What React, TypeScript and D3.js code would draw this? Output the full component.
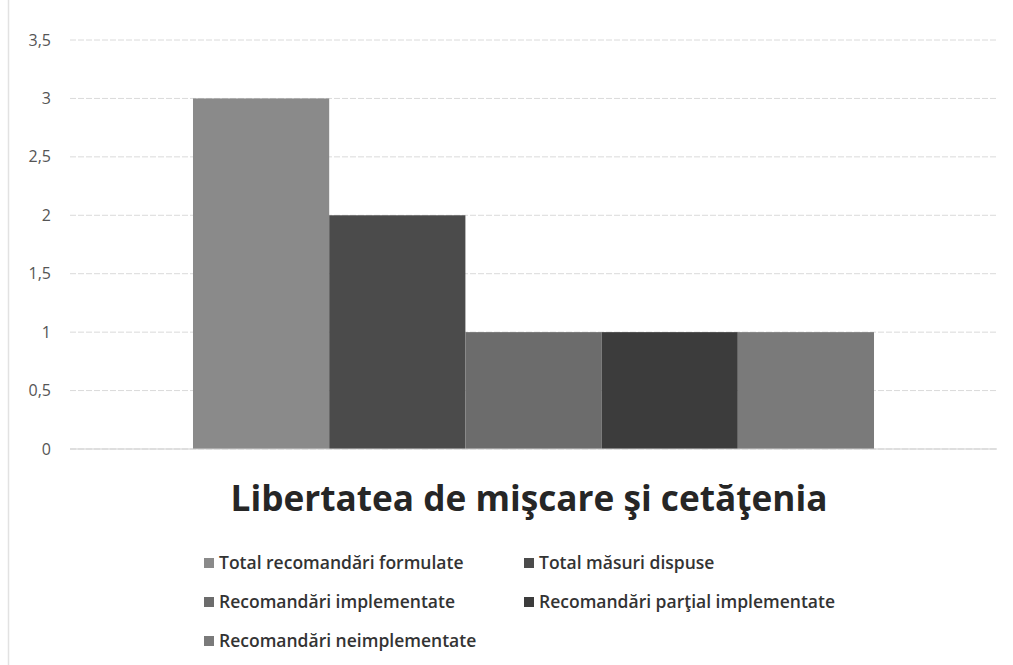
import React from "react";
import * as d3 from "d3";

const categories = ["Libertatea de mişcare şi cetăţenia"];
const seriesNames = [
  "Total recomandări formulate",
  "Total măsuri dispuse",
  "Recomandări implementate",
  "Recomandări parţial implementate",
  "Recomandări neimplementate",
];
const seriesValues = [3, 2, 1, 1, 1];
const seriesColors = ["#8a8a8a", "#4b4b4b", "#6c6c6c", "#3c3c3c", "#7a7a7a"];
const yTicks = [0, 0.5, 1, 1.5, 2, 2.5, 3, 3.5];

const W = 1013;
const H = 665;
const plotLeft = 70;
const plotRight = 997;
const plotTop = 40;
const plotBottom = 449;

export default function App() {
  const y = d3.scaleLinear().domain([0, 3.5]).range([plotBottom, plotTop]);
  const x0 = d3
    .scaleBand<string>()
    .domain(categories)
    .range([plotLeft, plotRight])
    .paddingInner(0)
    .paddingOuter(0.1806);
  const x1 = d3
    .scaleBand<string>()
    .domain(seriesNames)
    .range([0, x0.bandwidth()])
    .padding(0);
  const fmt = (v: number) => String(v).replace(".", ",");

  const legendCols = [209, 529];
  const legendRows = [563, 602, 641];

  return (
    <svg
      width={W}
      height={H}
      style={{ position: "absolute", left: 0, top: 0, background: "#fff" }}
      fontFamily="'Open Sans', 'Noto Sans', sans-serif"
    >
      <line x1={8.5} x2={8.5} y1={0} y2={H} stroke="#e2e2e2" strokeWidth={1.5} />
      {yTicks.map((t) => (
        <g key={t}>
          <line
            x1={plotLeft}
            x2={plotRight}
            y1={y(t)}
            y2={y(t)}
            stroke="#dadada"
            strokeWidth={1}
            strokeDasharray="6 2"
          />
          <text
            x={51}
            y={y(t)}
            dy="0.35em"
            textAnchor="end"
            fontSize={16}
            fill="#555"
          >
            {fmt(t)}
          </text>
        </g>
      ))}
      {categories.map((c) => (
        <g key={c} transform={`translate(${x0(c)},0)`}>
          {seriesNames.map((s, i) => (
            <rect
              key={s}
              x={x1(s)}
              y={y(seriesValues[i])}
              width={x1.bandwidth()}
              height={y(0) - y(seriesValues[i])}
              fill={seriesColors[i]}
            />
          ))}
        </g>
      ))}
      <line x1={plotLeft} x2={plotRight} y1={y(0)} y2={y(0)} stroke="#cfcfcf" />
      <text
        x={529}
        y={511}
        textAnchor="middle"
        fontSize={35.2}
        fontWeight="bold"
        fill="#262626"
      >
        {categories[0]}
      </text>
      {seriesNames.map((s, i) => {
        const cx = legendCols[i % 2];
        const cy = legendRows[Math.floor(i / 2)];
        return (
          <g key={s}>
            <rect x={cx - 5} y={cy - 5} width={10} height={10} fill={seriesColors[i]} />
            <text x={cx + 10} y={cy} dy="0.35em" fontSize={17.5} fontWeight={600} fill="#333">
              {s}
            </text>
          </g>
        );
      })}
    </svg>
  );
}
